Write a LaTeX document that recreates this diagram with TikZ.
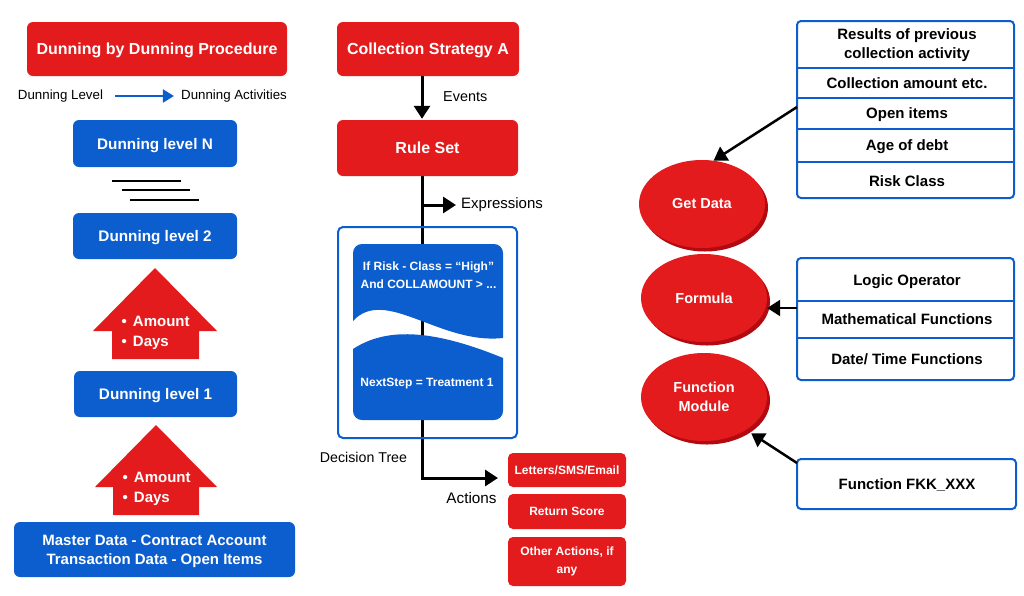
\documentclass[tikz,border=0pt]{standalone}
\usepackage{fontspec}
\setmainfont{Liberation Sans}
\usetikzlibrary{arrows.meta,calc,shapes.geometric}
\definecolor{dred}{RGB}{227,27,29}
\definecolor{dblue}{RGB}{12,94,206}
\definecolor{shred}{RGB}{178,10,16}
\begin{document}
\begin{tikzpicture}[x=1pt,y=-1pt,
  fnt/.style={font=\bfseries\fontsize{#1}{19}\selectfont, text depth=0pt},
  plain/.style={font=\fontsize{#1}{18}\selectfont, inner sep=0pt},
  redbox/.style={fill=dred, rounded corners=6pt, text=white, inner sep=0pt, align=center},
  bluebox/.style={fill=dblue, rounded corners=6pt, text=white, inner sep=0pt, align=center},
  tab/.style={draw=dblue, line width=2pt, rounded corners=4pt, inner sep=0pt},
  cell/.style={font=\bfseries\fontsize{15}{19}\selectfont, align=center, inner sep=0pt},
  oval/.style={ellipse, fill=dred, text=white, minimum width=126pt, minimum height=88pt, inner sep=0pt, align=center, font=\bfseries\fontsize{14.5}{19}\selectfont},
  ovalsh/.style={ellipse, fill=shred, minimum width=126pt, minimum height=88pt, inner sep=0pt},
  arr/.style={-{Triangle[length=13pt,width=16pt]}, line width=3pt, black},
  bul/.style={anchor=west, text=white, align=left, inner sep=0pt, font=\bfseries\fontsize{15}{19.5}\selectfont},
]
\useasboundingbox[fill=white] (0,0) rectangle (1024,595);

% ---------------- left column ----------------
\node[redbox, fnt=16, minimum width=260pt, minimum height=54pt] (title) at (157,49) {Dunning by Dunning Procedure};
\node[plain=13.3] (dlev) at (60.5,96) {Dunning Level};
\node[plain=13.3] (dact) at (234,96) {Dunning Activities};
\draw[dblue, line width=2pt, -{Triangle[length=11pt,width=13pt]}] ([xshift=12pt]dlev.east) -- ([xshift=-7pt]dact.west);
\node[bluebox, fnt=15.3, minimum width=164pt, minimum height=47pt] (lvN) at (155,143.5) {Dunning level N};
\draw[line width=1.5pt] (112,181) -- (181,181);
\draw[line width=1.5pt] (122,190) -- (190,190);
\draw[line width=1.5pt] (130,200) -- (199,200);
\node[bluebox, fnt=15.3, minimum width=164pt, minimum height=46pt] (lv2) at (155,236) {Dunning level 2};
\fill[dred] (155,268) -- (217,331) -- (199,331) -- (199,359) -- (112,359) -- (112,331) -- (93,331) -- cycle;
\node[bul] (up1) at (121.5,333) {\textbullet\hspace{6pt}Amount\\\textbullet\hspace{6pt}Days};
\node[bluebox, fnt=15.3, minimum width=163pt, minimum height=46pt] (lv1) at (155.5,394) {Dunning level 1};
\fill[dred] (156,425) -- (217,487) -- (199,487) -- (199,515) -- (113,515) -- (113,487) -- (95,487) -- cycle;
\node[bul] (up2) at (122.5,489) {\textbullet\hspace{6pt}Amount\\\textbullet\hspace{6pt}Days};
\node[bluebox, minimum width=281pt, minimum height=55pt] (mast) at (154.5,549.5) {};
\node[text=white, align=center, inner sep=0pt, font=\bfseries\fontsize{15}{19}\selectfont] (mastt) at (154.5,551) {Master Data - Contract Account\\Transaction Data - Open Items};

% ---------------- middle column ----------------
\coordinate (lx) at (422,0);
\node[redbox, fnt=16, minimum width=182pt, minimum height=54pt] (cs) at (428,49) {Collection Strategy A};
\node[redbox, fnt=16, minimum width=181pt, minimum height=56pt] (rs) at (427.5,148) {Rule Set};
\draw[arr] (cs.south -| lx) -- ([yshift=1pt]rs.north -| lx);
\node[plain=14.4, anchor=west] (ev) at (443,97) {Events};
\coordinate (turn) at (422,478);
\coordinate (actend) at (498,478);
\draw[line width=3pt] (rs.south -| lx) -- (turn);
\draw[arr] ([xshift=-1.5pt]turn) -- (actend);
\coordinate (exs) at (421,205);
\coordinate (exe) at (456,205);
\draw[arr] (exs) -- (exe);
\node[plain=15, anchor=west] (ex) at (461,205) {Expressions};
\node[draw=dblue, line width=2pt, rounded corners=5pt, minimum width=179pt, minimum height=211pt, inner sep=0pt] (dt) at (427.5,332.5) {};
\begin{scope}
\clip[rounded corners=9pt] (353,244) rectangle (503,420);
\fill[dblue] (340,230) -- (520,230) -- (520,338) -- (503,338) .. controls (440,345) and (385,286) .. (353,321) -- (340,321) -- cycle;
\fill[dblue] (340,349) -- (353,349) .. controls (385,328) and (430,328) .. (503,358) -- (520,358) -- (520,430) -- (340,430) -- cycle;
\end{scope}
\node[text=white, align=center, inner sep=0pt, font=\bfseries\fontsize{12}{18}\selectfont] (cond) at (428.5,275) {If Risk - Class = “High”\\And COLLAMOUNT > ...};
\node[text=white, inner sep=0pt, text depth=0pt, font=\bfseries\fontsize{12}{15}\selectfont] (next) at (427,382) {NextStep = Treatment 1};
\node[plain=14.2] (dtl) at (363.5,457) {Decision Tree};
\node[plain=15.3] (actl) at (471.5,498) {Actions};
\node[redbox, rounded corners=5pt, fnt=12, minimum width=118pt, minimum height=34pt] (a1) at (567,470) {Letters/SMS/Email};
\node[redbox, rounded corners=5pt, fnt=12, minimum width=118pt, minimum height=35pt] (a2) at (567,511.5) {Return Score};
\node[redbox, rounded corners=5pt, font=\bfseries\fontsize{12}{18}\selectfont, minimum width=118pt, minimum height=49pt] (a3) at (567,561.5) {Other Actions, if\\any};

% ---------------- right column ----------------
\node[tab, minimum width=217pt, minimum height=177pt] (t1) at (905.5,109.5) {};
\draw[dblue, line width=2pt] (797,68) -- (1014,68);
\draw[dblue, line width=2pt] (797,98) -- (1014,98);
\draw[dblue, line width=2pt] (797,129) -- (1014,129);
\draw[dblue, line width=2pt] (797,162) -- (1014,162);
\node[cell] (r1) at (907,45) {Results of previous\\collection activity};
\node[cell] (r2) at (907,83.5) {Collection amount etc.};
\node[cell] (r3) at (907,114.5) {Open items};
\node[cell] (r4) at (907,146.5) {Age of debt};
\node[cell] (r5) at (907,181) {Risk Class};

\node[tab, minimum width=217pt, minimum height=122pt] (t2) at (905.5,319) {};
\draw[dblue, line width=2pt] (797,301) -- (1014,301);
\draw[dblue, line width=2pt] (797,338) -- (1014,338);
\node[cell] (s1) at (907,281.5) {Logic Operator};
\node[cell] (s2) at (907,319.5) {Mathematical Functions};
\node[cell] (s3) at (907,359.5) {Date/ Time Functions};

\node[tab, minimum width=219pt, minimum height=50pt] (t3) at (906.5,484) {};
\node[cell] (u1) at (907,485) {Function FKK\_XXX};

\node[ovalsh] (gds) at (705,207.5) {};
\node[oval] (gd) at (702,204) {Get Data};
\node[ovalsh] (fms) at (707,301.5) {};
\node[oval] (fm) at (704,298) {Formula};
\node[ovalsh] (fns) at (707,400.5) {};
\node[oval] (fn) at (704,397) {Function\\Module};

\coordinate (g1) at (797,107);
\draw[arr, line width=2.5pt] (g1) -- (gd.75);
\coordinate (f1) at (797,308);
\draw[arr, line width=2.5pt] (f1) -- (fm.east |- f1);
\coordinate (m1) at (797,463);
\draw[arr, line width=2.5pt, shorten >=6pt] (m1) -- (fn.-38);
\end{tikzpicture}
\end{document}
